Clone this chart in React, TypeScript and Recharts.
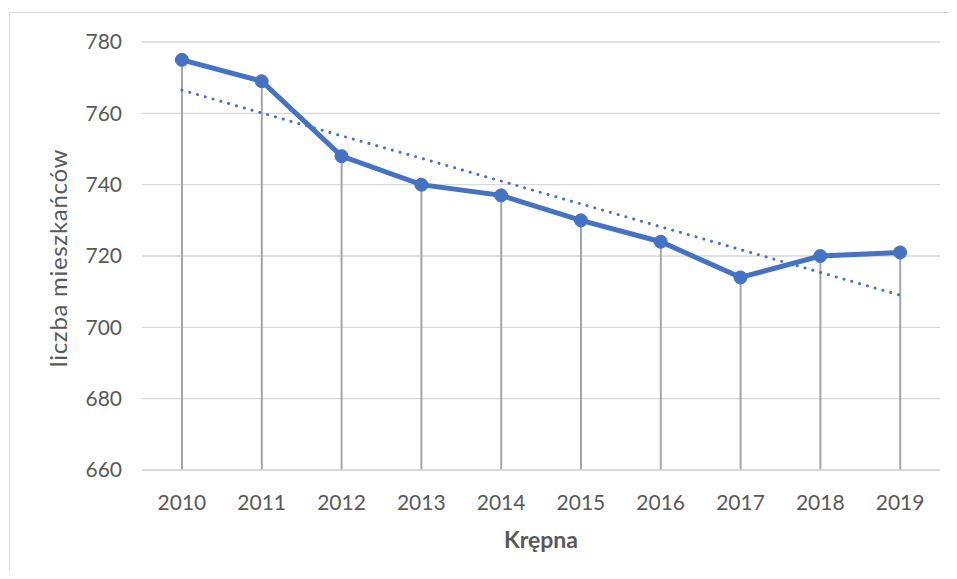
import React from "react";
import { ComposedChart, Line, Bar, XAxis, YAxis, CartesianGrid } from "recharts";

const years = ["2010", "2011", "2012", "2013", "2014", "2015", "2016", "2017", "2018", "2019"];
const population = [775, 769, 748, 740, 737, 730, 724, 714, 720, 721];
const trend = [766.5, 760.1, 753.7, 747.4, 741.0, 734.6, 728.2, 721.8, 715.4, 709.0];
const yTicks = [660, 680, 700, 720, 740, 760, 780];

const data = years.map((y, i) => ({ year: y, value: population[i], trend: trend[i] }));

const FONT = "Lato, 'Open Sans', sans-serif";
const TXT = "#595959";
const BLUE = "#4472C4";

const YLabel = (props: any) => {
  const cx = 67;
  const cy = 258;
  return (
    <text
      x={cx}
      y={cy}
      transform={`rotate(-90, ${cx}, ${cy})`}
      textAnchor="middle"
      fill={TXT}
      fontSize={24}
      letterSpacing={0.7}
      fontFamily={FONT}
    >
      liczba mieszkańców
    </text>
  );
};

const XLabel = (props: any) => {
  const vb = props.viewBox || {};
  const cx = vb.x + vb.width / 2;
  return (
    <text x={cx} y={548} textAnchor="middle" fill={TXT} fontSize={23} fontWeight="bold" fontFamily={FONT}>
      Krępna
    </text>
  );
};

export default function App() {
  return (
    <div style={{ position: "relative", width: 957, height: 579, margin: -8, overflow: "hidden", background: "#fff" }}>
      <div
        style={{
          position: "absolute",
          left: 9,
          top: 12,
          width: 970,
          height: 600,
          border: "1.5px solid #D9D9D9",
          boxSizing: "border-box",
        }}
      />
      <div style={{ position: "absolute", left: 0, top: 0 }}>
        <ComposedChart width={957} height={579} data={data} margin={{ top: 42, right: 17, bottom: 0, left: 0 }}>
          <CartesianGrid vertical={false} stroke="#D9D9D9" strokeWidth={1.3} />
          <XAxis
            dataKey="year"
            height={109}
            axisLine={{ stroke: "#D9D9D9", strokeWidth: 1.3 }}
            tickLine={false}
            tickMargin={19}
            tick={{ fill: TXT, fontSize: 21, fontFamily: FONT }}
            interval={0}
            label={<XLabel />}
          />
          <YAxis
            width={142}
            domain={[660, 780]}
            ticks={yTicks}
            axisLine={false}
            tickLine={false}
            tickMargin={14}
            tick={{ fill: TXT, fontSize: 21, fontFamily: FONT }}
            label={<YLabel />}
          />
          <Bar dataKey="value" barSize={2} fill="#A5A5A5" isAnimationActive={false} />
          <Line
            dataKey="trend"
            stroke={BLUE}
            strokeWidth={3}
            strokeDasharray="0.1 8"
            strokeLinecap="round"
            dot={false}
            activeDot={false}
            isAnimationActive={false}
          />
          <Line
            dataKey="value"
            stroke={BLUE}
            strokeWidth={5}
            dot={{ r: 6.5, fill: BLUE, stroke: BLUE, strokeWidth: 1 }}
            activeDot={false}
            isAnimationActive={false}
          />
        </ComposedChart>
      </div>
    </div>
  );
}
